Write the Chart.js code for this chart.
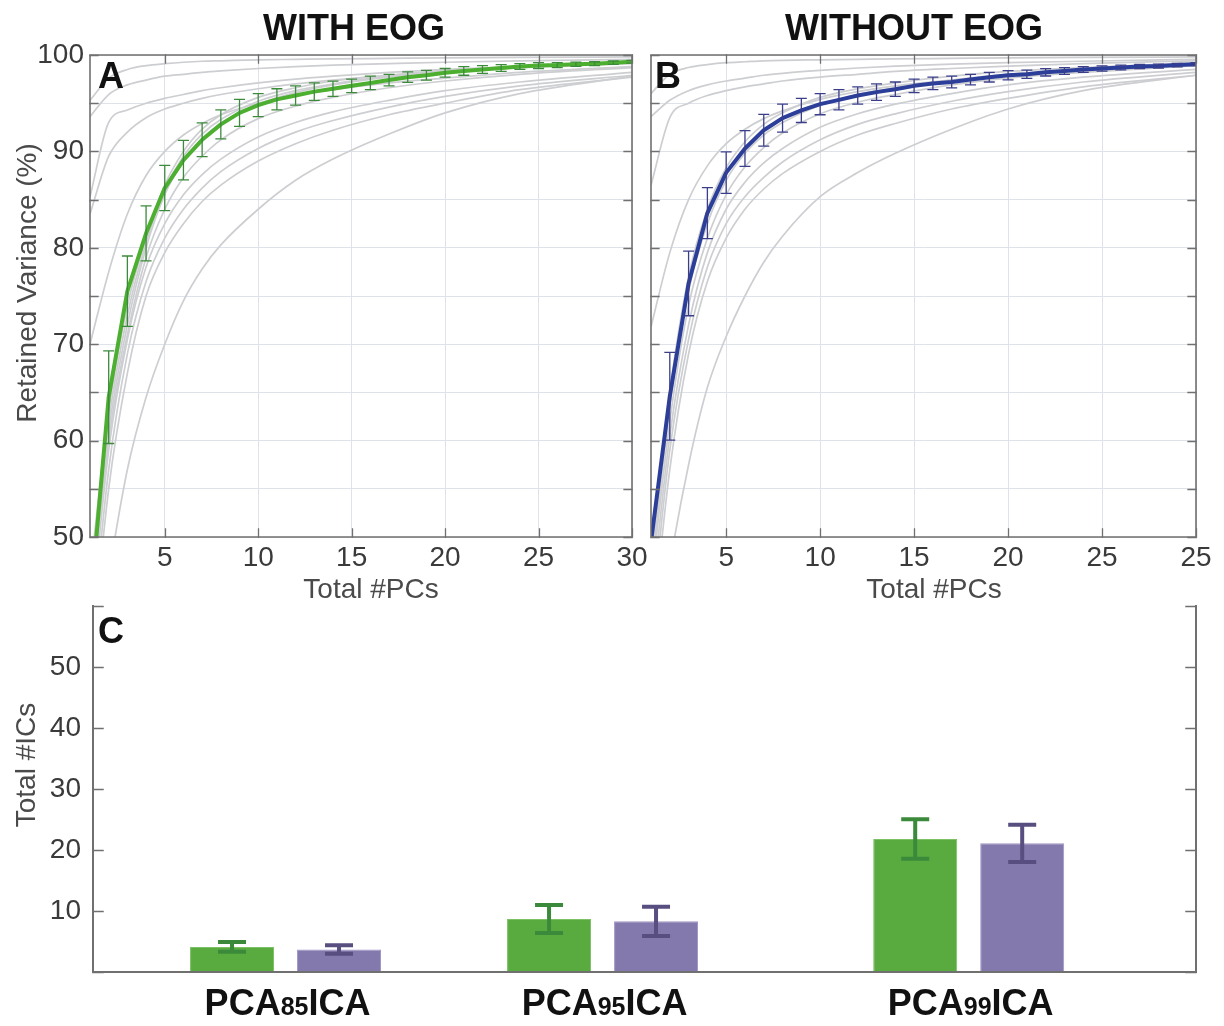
<!DOCTYPE html>
<html><head><meta charset="utf-8">
<script src="https://cdn.jsdelivr.net/npm/chart.js@4.4.1/dist/chart.umd.min.js"></script>
<style>
html,body{margin:0;padding:0;background:#fff;}
#wrap{position:relative;width:1224px;height:1026px;overflow:hidden;background:#fff;}
canvas{position:absolute;}
</style></head><body>
<div id="wrap">
<canvas id="cA" width="655" height="605" style="left:0;top:0;width:655px;height:605px"></canvas>
<canvas id="cB" width="584" height="605" style="left:640px;top:0;width:584px;height:605px"></canvas>
<canvas id="cC" width="1224" height="426" style="left:0;top:600px;width:1224px;height:426px"></canvas>
</div>
<script>
// ---------------- DATA ----------------
const pcCounts = [1,2,3,4,5,6,7,8,9,10,11,12,13,14,15,16,17,18,19,20,21,22,23,24,25,26,27,28,29,30];
const meanWithEOG = [42.5,64.5,75.5,81.5,86.2,89.1,91.2,92.8,94.0,94.8,95.4,95.8,96.2,96.5,96.8,97.1,97.4,97.7,97.9,98.15,98.35,98.5,98.65,98.8,98.9,98.95,99.05,99.1,99.2,99.3];
const sdWithEOG = [null,4.8,3.65,2.85,2.35,2.05,1.75,1.5,1.4,1.2,1.1,1.0,0.9,0.8,0.7,0.7,0.6,0.55,0.5,0.45,0.45,0.4,0.35,0.3,0.3,0.25,0.22,0.2,0.18,0.15];
const meanWithoutEOG = [49.5,64.6,76.3,83.6,87.8,90.3,92.2,93.45,94.25,94.9,95.35,95.8,96.15,96.45,96.8,97.05,97.2,97.45,97.7,97.9,98.0,98.2,98.35,98.5,98.6,98.7,98.8,98.85,98.95,99.05];
const sdWithoutEOG = [null,4.55,3.35,2.65,2.15,1.85,1.65,1.45,1.25,1.1,1.05,0.9,0.85,0.75,0.7,0.65,0.6,0.55,0.5,0.48,0.43,0.38,0.35,0.3,0.28,0.25,0.22,0.2,0.18,0.15];

// individual subjects, read at these PC counts
const subjectPCs = [1,2,3,4,5,6,7,8,10,12,14,17,20,24,30];
const subjectsWithEOG = [
  [95.3,97.6,98.5,98.9,99.1,99.25,99.35,99.4,99.5,99.55,99.6,99.65,99.7,99.75,99.8],
  [93.6,95.9,96.9,97.4,97.8,98.0,98.2,98.35,98.6,98.8,98.95,99.1,99.25,99.4,99.55],
  [85.3,93.0,94.3,95.0,95.5,95.9,96.3,96.6,97.1,97.5,97.8,98.2,98.5,98.8,99.2],
  [83.5,89.5,92.0,93.5,94.4,95.0,95.5,95.9,96.5,97.0,97.4,97.9,98.3,98.7,99.1],
  [70.0,77.5,83.5,87.5,90.0,91.7,92.9,93.8,95.0,95.8,96.4,97.1,97.6,98.2,98.8],
  [46,63,74,81,86.5,90,92.3,93.8,95.6,96.6,97.3,97.9,98.4,98.8,99.3],
  [45,62,73,80.5,86.0,89.5,91.8,93.3,95.2,96.3,97.0,97.8,98.3,98.75,99.25],
  [44,61,72,80,85.5,89,91.3,92.9,94.9,96.1,96.9,97.7,98.2,98.7,99.2],
  [42,60,71,79,84,87.3,89.5,91.2,93.4,94.7,95.6,96.6,97.3,98.0,98.7],
  [40,59,70.5,78,82.5,85.5,87.6,89.2,91.5,93.0,94.1,95.3,96.3,97.2,98.2],
  [38,57,69,76.5,81,84,86.2,87.9,90.3,92.0,93.2,94.6,95.7,96.8,97.9],
  [36,55,67,75,79.5,82.5,84.8,86.5,89.0,90.8,92.2,93.8,95.0,96.4,97.7],
  [33,46,57,64.5,70,74.5,77.8,80.3,84,87,89.2,91.8,94.0,96.0,97.8]
];
const subjectsWithoutEOG = [
  [96.0,98.0,98.7,99.0,99.2,99.3,99.4,99.45,99.5,99.55,99.6,99.65,99.7,99.75,99.8],
  [93.6,95.3,96.3,96.9,97.3,97.6,97.9,98.1,98.4,98.65,98.85,99.05,99.2,99.35,99.55],
  [86.5,93.5,95.0,95.8,96.3,96.7,97.0,97.3,97.7,98.0,98.3,98.6,98.85,99.1,99.4],
  [71.8,79.5,85.0,88.5,90.8,92.3,93.4,94.2,95.4,96.2,96.8,97.4,97.9,98.4,98.9],
  [47,65,77,84,88.3,91.0,92.8,94.0,95.6,96.5,97.1,97.8,98.3,98.7,99.2],
  [46,63.5,75.5,82.5,87.0,89.8,91.7,93.0,94.8,95.9,96.6,97.4,98.0,98.5,99.1],
  [45,62,74,81,85.5,88.4,90.4,91.9,93.9,95.1,95.9,96.9,97.6,98.2,98.9],
  [43,60.5,72,79.5,84,86.8,88.8,90.3,92.5,93.9,94.9,96.0,96.9,97.7,98.5],
  [41,59,70.5,78,82.5,85.3,87.3,88.9,91.2,92.8,93.9,95.2,96.2,97.2,98.2],
  [39,57,69,76.5,81,84,86.1,87.7,90.0,91.7,92.9,94.4,95.5,96.7,97.9],
  [33,47,57.5,65.5,70.8,75,78.5,81.2,85.3,87.8,89.8,92.3,94.4,96.3,97.9]
];

const xTickValues = [5,10,15,20,25,30];
const xTickLabelsA = ['5','10','15','20','25','30'];
const xTickLabelsB = ['5','10','15','20','25','25'];
const yTickLabelsVariance = [50,60,70,80,90,100];

const methods = ['PCA85ICA','PCA95ICA','PCA99ICA'];
const methodPos = [1, 2, 3.155];
const icsWithEOG = [4.1, 8.7, 21.8];
const icsWithEOGErr = [0.8, 2.3, 3.25];
const icsWithoutEOG = [3.7, 8.3, 21.1];
const icsWithoutEOGErr = [0.7, 2.4, 3.05];
const yTickLabelsICs = [10,20,30,40,50];

// ---------------- STYLE / PLUGINS ----------------
const FONT = "'Liberation Sans', Arial, Helvetica, sans-serif";
Chart.defaults.font.family = FONT;
const FRAME = '#707070';

const errorBarPlugin = {
  id: 'errbars',
  afterDatasetsDraw(chart) {
    const {ctx, chartArea: a} = chart;
    const ys = chart.scales.y;
    chart.data.datasets.forEach((ds, di) => {
      if (!ds.errors) return;
      const meta = chart.getDatasetMeta(di);
      ctx.save();
      ctx.beginPath(); ctx.rect(a.left, a.top, a.right - a.left, a.bottom - a.top); ctx.clip();
      ctx.strokeStyle = ds.errColor; ctx.lineWidth = ds.errWidth; ctx.lineCap = 'butt';
      meta.data.forEach((el, i) => {
        const e = ds.errors[i];
        if (e == null) return;
        const d = ds.data[i];
        const v = (typeof d === 'object') ? d.y : d;
        const yT = ys.getPixelForValue(v + e), yB = ys.getPixelForValue(v - e);
        const x = el.x, w = ds.errCap;
        ctx.beginPath();
        ctx.moveTo(x, yT); ctx.lineTo(x, yB);
        ctx.moveTo(x - w, yT); ctx.lineTo(x + w, yT);
        ctx.moveTo(x - w, yB); ctx.lineTo(x + w, yB);
        ctx.stroke();
      });
      ctx.restore();
    });
  }
};

function makeFramePlugin(o) {
  return {
    id: 'frame',
    afterDraw(chart) {
      const {ctx, chartArea: a} = chart;
      const xs = chart.scales.x, ys = chart.scales.y;
      ctx.save();
      ctx.strokeStyle = FRAME; ctx.lineWidth = o.width; ctx.lineCap = 'square';
      ctx.beginPath();
      if (o.box) {
        ctx.rect(a.left, a.top, a.right - a.left, a.bottom - a.top);
      } else {
        ctx.moveTo(a.left, a.top); ctx.lineTo(a.left, a.bottom); ctx.lineTo(a.right, a.bottom); ctx.lineTo(a.right, a.top);
      }
      ctx.stroke();
      ctx.lineWidth = o.tickWidth;
      ctx.beginPath();
      if (o.xTicks) {
        xs.ticks.forEach(t => {
          const p = Math.round(xs.getPixelForValue(t.value)) + 0.5;
          ctx.moveTo(p, a.bottom); ctx.lineTo(p, a.bottom - o.len);
          ctx.moveTo(p, a.top); ctx.lineTo(p, a.top + o.len);
        });
      }
      ys.ticks.forEach(t => {
        const p = Math.round(ys.getPixelForValue(t.value)) + 0.5;
        ctx.moveTo(a.left, p); ctx.lineTo(a.left + o.len, p);
        ctx.moveTo(a.right, p); ctx.lineTo(a.right - o.len, p);
      });
      ctx.stroke();
      ctx.restore();
    }
  };
}

function makeTextPlugin(items) {
  return {
    id: 'texts',
    afterDraw(chart) {
      const ctx = chart.ctx;
      items.forEach(it => {
        ctx.save();
        ctx.font = it.font; ctx.fillStyle = it.color || '#000';
        ctx.textAlign = it.align || 'center'; ctx.textBaseline = 'alphabetic';
        ctx.translate(it.x, it.y);
        if (it.rot) ctx.rotate(it.rot);
        ctx.fillText(it.text, 0, 0);
        ctx.restore();
      });
    }
  };
}

const methodLabelPlugin = {
  id: 'methodLabels',
  afterDraw(chart) {
    const ctx = chart.ctx, xs = chart.scales.x;
    const big = 'bold 36px ' + FONT, small = 'bold 25px ' + FONT;
    methods.forEach((name, i) => {
      const m = name.match(/^(\D+)(\d+)(\D+)$/);
      const parts = [[m[1], big], [m[2], small], [m[3], big]];
      let total = 0;
      parts.forEach(p => { ctx.font = p[1]; p.push(ctx.measureText(p[0]).width); total += p[2]; });
      let x = xs.getPixelForValue(methodPos[i]) + 2 - total / 2;
      ctx.save();
      ctx.fillStyle = '#111'; ctx.textAlign = 'left'; ctx.textBaseline = 'alphabetic';
      parts.forEach(p => { ctx.font = p[1]; ctx.fillText(p[0], x, 415); x += p[2]; });
      ctx.restore();
    });
  }
};

function buildVarianceChart(id, cfg) {
  const datasets = [{
    label: cfg.label,
    data: pcCounts.map((x, i) => ({x, y: cfg.mean[i]})),
    borderColor: cfg.color, borderWidth: 4, pointRadius: 0, tension: 0, clip: 0, order: 0,
    borderJoinStyle: 'round',
    errors: cfg.sd, errColor: cfg.errColor, errWidth: 1.3, errCap: 5.5
  }];
  cfg.subjects.forEach((s, j) => datasets.push({
    label: 'subject ' + (j + 1),
    data: subjectPCs.map((x, i) => ({x, y: s[i]})),
    borderColor: '#cdced1', borderWidth: 1.7, pointRadius: 0,
    cubicInterpolationMode: 'monotone', clip: 0, order: 1
  }));
  return new Chart(document.getElementById(id), {
    type: 'line',
    data: {datasets},
    options: {
      responsive: false, animation: false, devicePixelRatio: 1,
      layout: {padding: {top: 55, right: cfg.padRight, left: 0, bottom: 0}},
      plugins: {legend: {display: false}, tooltip: {enabled: false}},
      scales: {
        x: {
          type: 'linear', min: 1, max: 30,
          afterBuildTicks: s => { s.ticks = xTickValues.map(v => ({value: v})); },
          afterFit: s => { s.height = 68; s.paddingLeft = 0; s.paddingRight = 0; },
          ticks: {autoSkip: false, maxRotation: 0, padding: 4, color: '#3a3a3a', font: {size: 28},
                  callback: (v, i) => cfg.xLabels[i]},
          grid: {color: '#dfe3e9', lineWidth: 1, drawTicks: false},
          border: {display: false}
        },
        y: {
          type: 'linear', min: 50, max: 100,
          ticks: {stepSize: 5, autoSkip: false, display: cfg.showY, padding: 6, color: '#3a3a3a', font: {size: 28},
                  callback: v => yTickLabelsVariance.includes(v) ? String(v) : ''},
          afterFit: s => { s.width = cfg.yWidth; s.paddingTop = 0; s.paddingBottom = 0; },
          grid: {color: '#dfe3e9', lineWidth: 1, drawTicks: false},
          border: {display: false}
        }
      }
    },
    plugins: [errorBarPlugin, makeFramePlugin({box: true, width: 1.6, tickWidth: 1.3, len: 8, xTicks: true}), makeTextPlugin(cfg.texts)]
  });
}

buildVarianceChart('cA', {
  label: 'WITH EOG', mean: meanWithEOG, sd: sdWithEOG, subjects: subjectsWithEOG,
  color: '#4caf30', errColor: '#3d8a3d', xLabels: xTickLabelsA, showY: true, yWidth: 90, padRight: 23,
  texts: [
    {text: 'WITH EOG', x: 354, y: 40, font: 'bold 36px ' + FONT, color: '#111'},
    {text: 'A', x: 98, y: 88, font: 'bold 36px ' + FONT, color: '#111', align: 'left'},
    {text: 'Total #PCs', x: 371, y: 598, font: '28px ' + FONT, color: '#4a4a4a'},
    {text: 'Retained Variance (%)', x: 36, y: 283, font: '28px ' + FONT, color: '#4a4a4a', rot: -Math.PI / 2}
  ]
});

buildVarianceChart('cB', {
  label: 'WITHOUT EOG', mean: meanWithoutEOG, sd: sdWithoutEOG, subjects: subjectsWithoutEOG,
  color: '#2b3e99', errColor: '#3b3f8a', xLabels: xTickLabelsB, showY: false, yWidth: 11, padRight: 28,
  texts: [
    {text: 'WITHOUT EOG', x: 274, y: 40, font: 'bold 36px ' + FONT, color: '#111'},
    {text: 'B', x: 15, y: 88, font: 'bold 36px ' + FONT, color: '#111', align: 'left'},
    {text: 'Total #PCs', x: 294, y: 598, font: '28px ' + FONT, color: '#4a4a4a'}
  ]
});

new Chart(document.getElementById('cC'), {
  type: 'bar',
  data: {
    datasets: [
      {label: 'WITH EOG', data: methodPos.map((x, i) => ({x, y: icsWithEOG[i]})),
       backgroundColor: '#59ab3f', borderColor: '#7cc163', borderWidth: 1,
       categoryPercentage: 0.675, barPercentage: 0.785,
       errors: icsWithEOGErr, errColor: '#3b8a3b', errWidth: 4, errCap: 14},
      {label: 'WITHOUT EOG', data: methodPos.map((x, i) => ({x, y: icsWithoutEOG[i]})),
       backgroundColor: '#8479ad', borderColor: '#a196c6', borderWidth: 1,
       categoryPercentage: 0.675, barPercentage: 0.785,
       errors: icsWithoutEOGErr, errColor: '#594e80', errWidth: 4, errCap: 14}
    ]
  },
  options: {
    responsive: false, animation: false, devicePixelRatio: 1,
    layout: {padding: {top: 6, right: 28, left: 0, bottom: 0}},
    plugins: {legend: {display: false}, tooltip: {enabled: false}},
    scales: {
      x: {
        type: 'linear', min: 0.3927, max: 3.872, offset: false,
        afterBuildTicks: s => { s.ticks = methodPos.map(v => ({value: v})); },
        afterFit: s => { s.height = 54; s.paddingLeft = 0; s.paddingRight = 0; },
        ticks: {display: false}, grid: {display: false, drawTicks: false}, border: {display: false}
      },
      y: {
        type: 'linear', min: 0, max: 60,
        ticks: {stepSize: 10, autoSkip: false, padding: 12, color: '#3a3a3a', font: {size: 28},
                callback: v => yTickLabelsICs.includes(v) ? String(v) : ''},
        afterFit: s => { s.width = 93; s.paddingTop = 0; s.paddingBottom = 0; },
        grid: {display: false, drawTicks: false}, border: {display: false}
      }
    }
  },
  plugins: [errorBarPlugin, makeFramePlugin({box: false, width: 2, tickWidth: 1.5, len: 10, xTicks: false}), methodLabelPlugin,
    makeTextPlugin([
      {text: 'C', x: 98, y: 43, font: 'bold 36px ' + FONT, color: '#111', align: 'left'},
      {text: 'Total #ICs', x: 35, y: 165, font: '28px ' + FONT, color: '#4a4a4a', rot: -Math.PI / 2}
    ])]
});
</script>
</body></html>
